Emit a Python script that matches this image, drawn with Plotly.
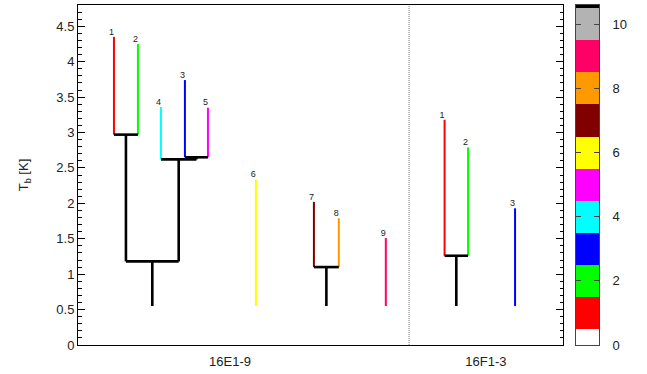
import plotly.graph_objects as go

# ---------------- data ----------------
group_labels = ["16E1-9", "16F1-3"]
group_label_pos = [6.47, 17.36]
divider_x = 14.09
base_level = 0.55

# 16E1-9 leaves
e_ids = [1, 2, 3, 4, 5, 6, 7, 8, 9]
e_x = [1.53, 2.55, 4.55, 3.53, 5.53, 7.57, 10.04, 11.10, 13.10]
e_peak = [4.35, 4.25, 3.74, 3.36, 3.35, 2.34, 2.02, 1.79, 1.51]
# merges: (node, left, right, height)
e_merges = [("A", "E1", "E2", 2.97),
            ("B", "E3", "E5", 2.65),
            ("C", "E4", "B", 2.62),
            ("D", "A", "C", 1.18),
            ("G", "E7", "E8", 1.10)]

# 16F1-3 leaves
f_ids = [1, 2, 3]
f_x = [15.6, 16.6, 18.6]
f_peak = [3.18, 2.79, 1.93]
f_merges = [("H", "F1", "F2", 1.26)]

cbar_values = list(range(12))
cbar_colors = ["#ffffff", "#ff0000", "#00ff00", "#0000ff", "#00ffff", "#ff00ff",
               "#ffff00", "#800000", "#ff9900", "#ff0066", "#b3b3b3", "#000000"]
cbar_ticks = [0, 2, 4, 6, 8, 10]

# ---------------- build ----------------
fig = go.Figure()

def build(prefix, ids, xs, peaks, merges):
    pos, top, color = {}, {}, {}
    for i, x, p in zip(ids, xs, peaks):
        k = f"{prefix}{i}"
        pos[k] = x
        top[k] = p
        color[k] = cbar_colors[i]
    parent_h = {}
    hsegs = []
    internal = set()
    for name, l, r, h in merges:
        pos[name] = (pos[l] + pos[r]) / 2
        top[name] = h
        color[name] = "#000000"
        internal.add(name)
        parent_h[l] = h
        parent_h[r] = h
        hsegs.append((pos[l], pos[r], h))
    vsegs = [(pos[k], top[k], parent_h.get(k, base_level), color[k], k in internal) for k in pos]
    return vsegs, hsegs

black_x, black_y = [], []
labels_x, labels_y, labels_t = [], [], []
for prefix, ids, xs, peaks, merges in [("E", e_ids, e_x, e_peak, e_merges),
                                        ("F", f_ids, f_x, f_peak, f_merges)]:
    vsegs, hsegs = build(prefix, ids, xs, peaks, merges)
    for x, y1, y0, c, internal in vsegs:
        if internal:
            black_x += [x, x, None]
            black_y += [y1, y0, None]
        else:
            fig.add_trace(go.Scatter(x=[x, x], y=[y0, y1], mode="lines",
                                     line=dict(color=c, width=2), showlegend=False,
                                     hoverinfo="skip", xaxis="x", yaxis="y"))
    for x0, x1, h in hsegs:
        black_x += [x0, x1, None]
        black_y += [h, h, None]
    for i, x, p in zip(ids, xs, peaks):
        labels_x.append(x)
        labels_y.append(p)
        labels_t.append(str(i))

fig.add_trace(go.Scatter(x=black_x, y=black_y, mode="lines",
                         line=dict(color="#000000", width=2.6), showlegend=False,
                         hoverinfo="skip", xaxis="x", yaxis="y"))

fig.add_trace(go.Scatter(x=labels_x, y=labels_y, mode="text", text=labels_t,
                         textposition="top left", textfont=dict(size=9, color="#222222"),
                         showlegend=False, hoverinfo="skip", xaxis="x", yaxis="y"))

fig.add_trace(go.Scatter(x=[divider_x, divider_x], y=[0, 4.8], mode="lines",
                         line=dict(color="#777777", width=1, dash="1px,1px"),
                         showlegend=False, hoverinfo="skip", xaxis="x", yaxis="y"))

# colour bar as heatmap
n = len(cbar_values) - 1
fig.add_trace(go.Heatmap(x=[0], y=cbar_values, z=[[v] for v in cbar_values],
                         zmin=0, zmax=n,
                         colorscale=[[i / n, c] for i, c in enumerate(cbar_colors)],
                         showscale=False, hoverinfo="skip", xaxis="x2", yaxis="y2"))

W, H = 647, 374
ml, mr, mt, mb = 78, 48, 5, 29
pw = W - ml - mr
font = dict(family="Liberation Sans, Arial, sans-serif", size=13, color="#222222")

fig.update_layout(
    width=W, height=H,
    margin=dict(l=ml, r=mr, t=mt, b=mb),
    paper_bgcolor="white", plot_bgcolor="white",
    font=font,
    xaxis=dict(domain=[0, (563 - ml) / pw], range=[0, 20.64],
               tickvals=group_label_pos, ticktext=group_labels, ticks="",
               ticklabelstandoff=4,
               showgrid=False, zeroline=False, showline=True, linecolor="#000000",
               linewidth=1, mirror=True, tickfont=dict(size=13)),
    yaxis=dict(range=[0, 4.8], dtick=0.5, tick0=0, ticks="inside", ticklen=7,
               tickcolor="#000000", showgrid=False, zeroline=False, showline=True,
               linecolor="#000000", linewidth=1, mirror="ticks",
               minor=dict(dtick=0.1, ticks="inside", ticklen=3.5, tickcolor="#000000", showgrid=False),
               title=dict(text="T<sub>b</sub> [K]", standoff=24, font=dict(size=13)),
               tickfont=dict(size=13)),
    xaxis2=dict(domain=[(576 - ml) / pw, 1], range=[-0.5, 0.5], anchor="y2",
                showticklabels=False, ticks="", showgrid=False, zeroline=False,
                showline=True, linecolor="#444444", linewidth=1, mirror=True),
    yaxis2=dict(range=[0, 10.6], anchor="x2", side="right", tickvals=cbar_ticks,
                ticks="inside", ticklen=5, tickcolor="#444444", mirror="ticks",
                ticklabelstandoff=10,
                showgrid=False, zeroline=False, showline=True, linecolor="#444444",
                linewidth=1, tickfont=dict(size=13)),
)

fig.write_html("out.html")
